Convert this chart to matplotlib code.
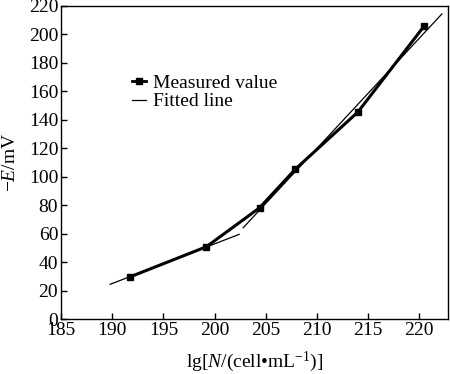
import matplotlib
matplotlib.use("Agg")
import matplotlib.pyplot as plt
from matplotlib.lines import Line2D

plt.rcParams['font.family'] = ['Liberation Serif', 'DejaVu Serif']
plt.rcParams['mathtext.fontset'] = 'custom'
plt.rcParams['mathtext.rm'] = 'Liberation Serif'
plt.rcParams['mathtext.it'] = 'Liberation Serif:italic'

# measured data
x_meas = [191.7, 199.2, 204.4, 207.9, 214.0, 220.5]
y_meas = [29.5, 50.8, 78.2, 105.4, 145.5, 206.2]

# fitted line segments (endpoints)
fit1_x = [189.8, 202.4]
fit1_y = [24.4, 59.5]
fit2_x = [202.8, 222.2]
fit2_y = [64.2, 214.4]

xticks = [185, 190, 195, 200, 205, 210, 215, 220]
yticks = list(range(0, 221, 20))

fig = plt.figure(figsize=(4.5, 3.74), dpi=100)
ax = fig.add_axes([0.1356, 0.147, 0.86, 0.837])

ax.plot(fit1_x, fit1_y, color='black', lw=0.9)
ax.plot(fit2_x, fit2_y, color='black', lw=0.9)
ax.plot(x_meas, y_meas, color='black', lw=2.2, marker='s', ms=5)

ax.set_xlim(185, 222.8)
ax.set_ylim(0, 220)
ax.set_xticks(xticks)
ax.set_yticks(yticks)
ax.tick_params(direction='in', labelsize=14, length=4, width=1, pad=2)
for s in ax.spines.values():
    s.set_linewidth(1.0)

ax.set_xlabel(r'lg[$\it{N}$/(cell•mL$^{-1}$)]', fontsize=14, labelpad=8)
ax.set_ylabel(r'$-\it{E}$/mV', fontsize=14)
ax.yaxis.set_label_coords(-0.108, 0.5)

handles = [
    Line2D([], [], color='black', lw=2.0, marker='s', ms=4.5),
    Line2D([], [], color='black', lw=0.9),
]
ax.legend(handles, ['Measured value', 'Fitted line'], loc='upper left',
          bbox_to_anchor=(0.163, 0.807), frameon=False, fontsize=14,
          handlelength=0.75, handletextpad=0.35, labelspacing=0.05,
          borderaxespad=0)

fig.savefig('out.png', dpi=100)
